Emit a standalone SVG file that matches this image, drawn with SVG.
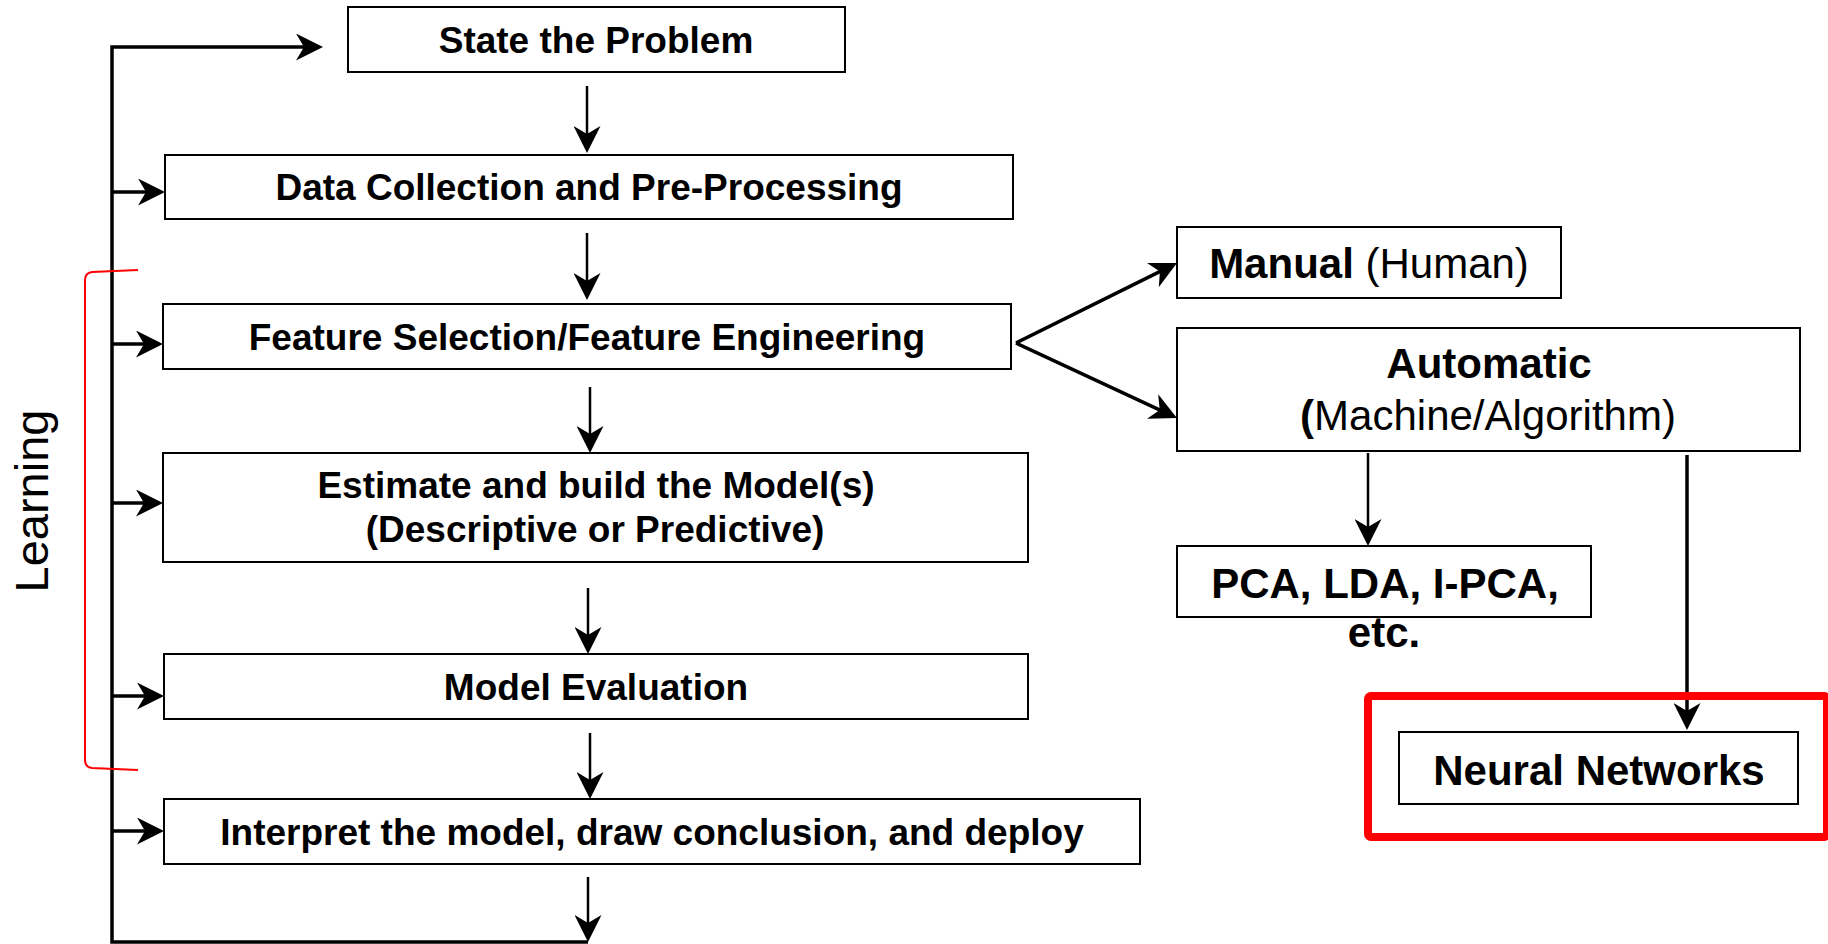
<svg xmlns="http://www.w3.org/2000/svg" width="1828" height="944" viewBox="0 0 1828 944">
<style>
.box{fill:#fff;stroke:#000;stroke-width:2}
.t{font-family:"Liberation Sans",Arial,sans-serif;font-weight:bold;font-size:37px;text-anchor:middle;fill:#000}
.tr{font-family:"Liberation Sans",Arial,sans-serif;font-weight:bold;font-size:42px;text-anchor:middle;fill:#000}
.n{font-weight:normal}
.c{fill:none;stroke:#000;stroke-width:3.5}
.c2{fill:none;stroke:#000;stroke-width:2.5}
.a{marker-end:url(#ah)}
</style>
<defs>
<marker id="ah" markerUnits="userSpaceOnUse" markerWidth="27" markerHeight="27" viewBox="0 0 27 27" refX="19" refY="13.5" orient="auto">
<path d="M0,0 L27,13.5 L0,27 L8,13.5 Z" fill="#000"/>
</marker>
</defs>

<g id="connectors">
<path class="c" d="M588,942 L112,942 L112,47 L315,47" marker-end="url(#ah)"/>
<path class="c a" d="M112,192 L157,192"/>
<path class="c a" d="M112,344 L155,344"/>
<path class="c a" d="M112,503 L155,503"/>
<path class="c a" d="M112,696 L156,696"/>
<path class="c a" d="M112,831 L156,831"/>
<path class="c2 a" d="M587,86 L587,145"/>
<path class="c2 a" d="M587,233 L587,292"/>
<path class="c2 a" d="M590,387 L590,445"/>
<path class="c2 a" d="M588,588 L588,646"/>
<path class="c2 a" d="M590,733 L590,791"/>
<path class="c2 a" d="M588,877 L588,934"/>
<path class="c a" d="M1016,343 L1169.8,266.6"/>
<path class="c a" d="M1016,343 L1169.7,414.6"/>
<path class="c2 a" d="M1368,453 L1368,538"/>
<path class="c a" d="M1687,455 L1687,722"/>
</g>

<g id="learning-bracket">
<path d="M138,270 L92,272 Q85,273 85,280 L85,760 Q85,767 92,768 L138,770" fill="none" stroke="#ff0000" stroke-width="2"/>
<text x="48" y="501" transform="rotate(-90 48 501)" font-family="'Liberation Sans',Arial,sans-serif" font-size="47" text-anchor="middle" fill="#000">Learning</text>
</g>

<g id="state">
<rect class="box" x="348" y="7" width="497" height="65"/>
<text class="t" x="596" y="53">State the Problem</text>
</g>
<g id="data">
<rect class="box" x="165" y="155" width="848" height="64"/>
<text class="t" x="589" y="200">Data Collection and Pre-Processing</text>
</g>
<g id="feature">
<rect class="box" x="163" y="304" width="848" height="65"/>
<text class="t" x="587" y="350">Feature Selection/Feature Engineering</text>
</g>
<g id="estimate">
<rect class="box" x="163" y="453" width="865" height="109"/>
<text class="t" x="596" y="498">Estimate and build the Model(s)</text>
<text class="t" x="595" y="542">(Descriptive or Predictive)</text>
</g>
<g id="evaluation">
<rect class="box" x="164" y="654" width="864" height="65"/>
<text class="t" x="596" y="700">Model Evaluation</text>
</g>
<g id="interpret">
<rect class="box" x="164" y="799" width="976" height="65"/>
<text class="t" x="652" y="845">Interpret the model, draw conclusion, and deploy</text>
</g>

<g id="manual">
<rect class="box" x="1177" y="227" width="384" height="71"/>
<text class="tr" x="1369" y="278">Manual<tspan class="n"> (Human)</tspan></text>
</g>
<g id="automatic">
<rect class="box" x="1177" y="328" width="623" height="123"/>
<text class="tr" x="1489" y="378">Automatic</text>
<text class="tr" x="1488" y="430">(<tspan class="n">Machine/Algorithm)</tspan></text>
</g>
<g id="pca">
<rect class="box" x="1177" y="546" width="414" height="71"/>
<text class="tr" x="1385" y="598">PCA, LDA, I-PCA,</text>
<text class="tr" x="1384" y="647">etc.</text>
</g>
<g id="highlight">
<rect x="1368" y="696" width="459" height="141" rx="3" fill="none" stroke="#ff0000" stroke-width="8"/>
</g>
<g id="neural">
<rect class="box" x="1399" y="732" width="399" height="72"/>
<text class="tr" x="1599" y="785">Neural Networks</text>
</g>
</svg>
